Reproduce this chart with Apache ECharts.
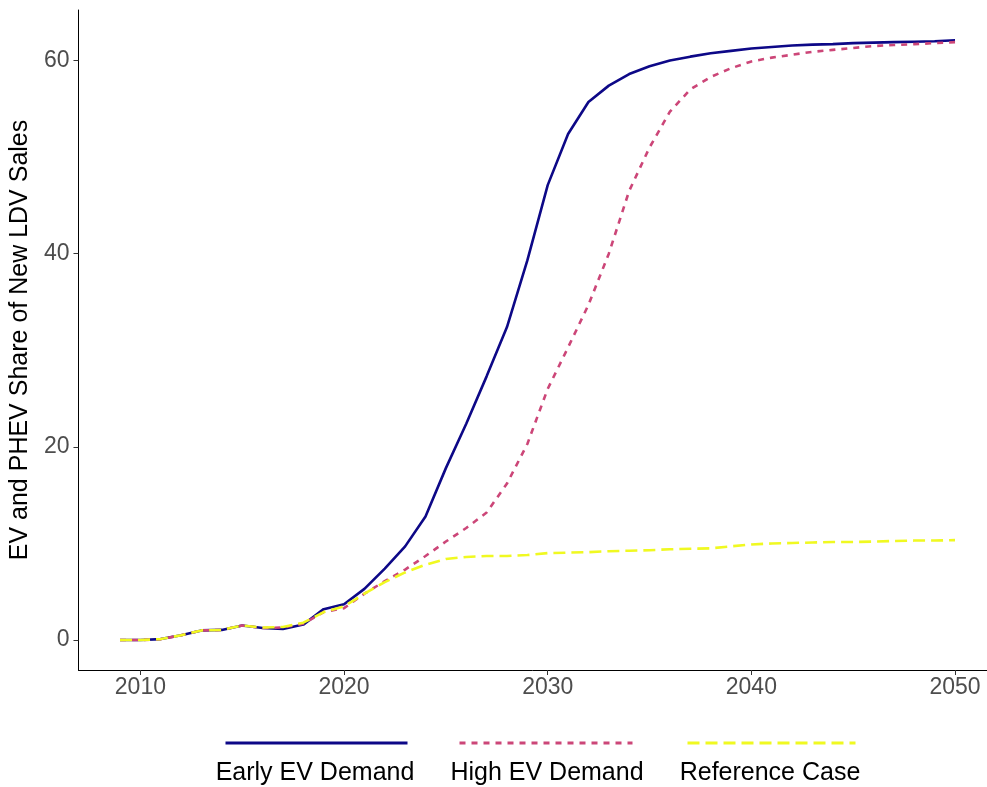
<!DOCTYPE html>
<html>
<head>
<meta charset="utf-8">
<script src="https://cdn.jsdelivr.net/npm/echarts@6/dist/echarts.min.js"></script>
<style>
html,body{margin:0;padding:0;background:#fff;}
#chart{width:987px;height:787px;}
</style>
</head>
<body>
<div id="chart"></div>
<script>
var years = [2009,2010,2011,2012,2013,2014,2015,2016,2017,2018,2019,2020,2021,2022,2023,2024,2025,2026,2027,2028,2029,2030,2031,2032,2033,2034,2035,2036,2037,2038,2039,2040,2041,2042,2043,2044,2045,2046,2047,2048,2049,2050];
var earlyEV = [0,0,0.1,0.5,1.0,1.05,1.5,1.25,1.15,1.6,3.2,3.7,5.3,7.4,9.7,12.8,17.8,22.4,27.3,32.4,39.3,47.1,52.4,55.7,57.4,58.6,59.4,60.0,60.4,60.75,61.0,61.25,61.4,61.55,61.65,61.7,61.8,61.85,61.9,61.95,62.0,62.1];
var highEV = [0,0,0.1,0.5,1.0,1.05,1.5,1.25,1.3,1.7,2.9,3.3,4.8,6.1,7.3,8.7,10.2,11.6,13.2,16.2,20.3,26.0,30.3,34.7,40.0,46.5,51.0,54.7,57.0,58.3,59.2,59.9,60.3,60.6,60.9,61.1,61.3,61.5,61.6,61.7,61.8,61.9];
var refCase = [0,0,0.1,0.5,1.0,1.05,1.5,1.3,1.35,1.8,2.9,3.5,4.8,6.0,7.0,7.8,8.4,8.6,8.7,8.7,8.8,9.0,9.05,9.1,9.2,9.25,9.3,9.4,9.45,9.5,9.7,9.9,10.0,10.05,10.1,10.15,10.15,10.2,10.25,10.3,10.3,10.35];
var seriesNames = ['Early EV Demand','High EV Demand','Reference Case'];
var xTicks = [2010,2020,2030,2040,2050];
var yTicks = [0,20,40,60];
var yTitle = 'EV and PHEV Share of New LDV Sales';

function pairs(vals){ return years.map(function(y,i){ return [y, vals[i]]; }); }

var colors = ['#0D0887','#CC4678','#F0F921'];
var dashes = ['solid',[6,6],[12,6]];
var valuesList = [earlyEV, highEV, refCase];

var chart = echarts.init(document.getElementById('chart'), null, {renderer:'canvas'});

var series = seriesNames.map(function(n,i){
  return {
    name: n, type: 'line', data: pairs(valuesList[i]),
    symbol: 'none', smooth: false, animation: false,
    lineStyle: {color: colors[i], width: 2.6, type: dashes[i]},
    itemStyle: {color: colors[i]},
    z: 2 + i
  };
});

var legendLeft = [224, 458, 686];
var legendW = [182, 173, 168];
var legendTextX = [315, 547, 770];

var legends = seriesNames.map(function(n,i){
  return {
    data: [n], left: legendLeft[i], top: 736, padding: 0,
    itemWidth: legendW[i], itemHeight: 14, selectedMode: false,
    formatter: function(){ return ''; },
    lineStyle: {width: 3, type: dashes[i], color: colors[i]},
    itemStyle: {opacity: 0}
  };
});

var graphics = seriesNames.map(function(n,i){
  return {
    type: 'text', x: legendTextX[i], y: 773,
    style: {text: n, x: 0, y: 0, textAlign: 'center', textVerticalAlign: 'middle',
      font: '25px "Liberation Sans", Arial, sans-serif', fill: '#000'}
  };
});

chart.setOption({
  animation: false,
  backgroundColor: '#fff',
  grid: {left: 76, right: 0, top: 10, bottom: 117, containLabel: false},
  legend: legends,
  graphic: graphics,
  xAxis: {
    type: 'value', min: 2006.96, max: 2051.57,
    splitLine: {show: false},
    axisLine: {show: true, onZero: false, lineStyle: {color: '#000', width: 1}},
    axisTick: {show: true, length: 5, lineStyle: {color: '#333'}, customValues: xTicks},
    axisLabel: {show: true, margin: 6, color: '#4D4D4D', fontSize: 23,
      fontFamily: '"Liberation Sans", Arial, sans-serif', customValues: xTicks,
      formatter: function(v){ return String(v); }}
  },
  yAxis: {
    type: 'value', min: -3.1, max: 65.23,
    name: yTitle, nameLocation: 'middle', nameGap: 35,
    nameTextStyle: {color: '#000', fontSize: 25, fontFamily: '"Liberation Sans", Arial, sans-serif'},
    splitLine: {show: false},
    axisLine: {show: true, onZero: false, lineStyle: {color: '#000', width: 1}},
    axisTick: {show: true, length: 5, lineStyle: {color: '#333'}, customValues: yTicks},
    axisLabel: {show: true, margin: 9, color: '#4D4D4D', fontSize: 23,
      fontFamily: '"Liberation Sans", Arial, sans-serif', customValues: yTicks,
      formatter: function(v){ return String(v); }}
  },
  series: series
});
</script>
</body>
</html>
